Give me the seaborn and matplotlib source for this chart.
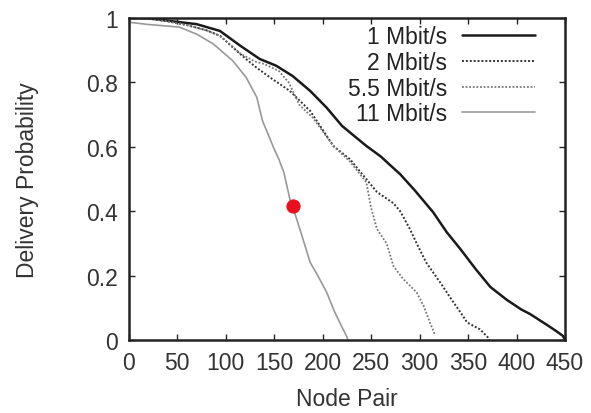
import numpy as np
import pandas as pd
import matplotlib
matplotlib.use( 'Agg' )
import matplotlib.pyplot as plt
import seaborn as sns

# Curves (node pair rank -> delivery probability)
x_1m = [0, 20, 45, 70, 94, 115, 135, 152, 169, 187, 204, 220, 245, 260, 269, 280, 295, 314, 328, 342, 358, 373, 390, 405, 414, 430, 440, 448, 450]
p_1m = [1.0, 1.0, 0.99, 0.981, 0.96, 0.914, 0.873, 0.852, 0.82, 0.774, 0.722, 0.665, 0.603, 0.57, 0.545, 0.515, 0.465, 0.397, 0.335, 0.283, 0.22, 0.165, 0.125, 0.095, 0.081, 0.05, 0.03, 0.013, 0.0]

x_2m = [0, 20, 40, 60, 80, 94, 115, 130, 145, 166, 187, 211, 228, 245, 256, 273, 280, 290, 297, 307, 321, 335, 342, 349, 362, 370, 372]
p_2m = [1.0, 0.998, 0.99, 0.978, 0.962, 0.945, 0.888, 0.85, 0.817, 0.774, 0.712, 0.603, 0.562, 0.5, 0.46, 0.425, 0.40, 0.345, 0.30, 0.24, 0.18, 0.117, 0.087, 0.055, 0.034, 0.01, 0.0]

x_55m = [0, 20, 40, 60, 80, 94, 115, 130, 140, 155, 165, 176, 190, 211, 228, 245, 250, 256, 266, 273, 283, 297, 304, 310, 314, 316]
p_55m = [1.0, 0.998, 0.99, 0.978, 0.962, 0.945, 0.89, 0.865, 0.857, 0.835, 0.80, 0.73, 0.69, 0.603, 0.555, 0.49, 0.41, 0.345, 0.30, 0.23, 0.19, 0.148, 0.107, 0.06, 0.03, 0.015]

x_11m = [0, 20, 52, 70, 87, 107, 121, 132, 138, 145, 149, 155, 160, 166, 169, 178, 187, 195, 204, 212, 220, 225, 226]
p_11m = [0.987, 0.98, 0.972, 0.95, 0.92, 0.868, 0.816, 0.754, 0.68, 0.63, 0.6, 0.56, 0.52, 0.44, 0.415, 0.33, 0.242, 0.2, 0.149, 0.09, 0.04, 0.01, 0.0]

labels = ['1 Mbit/s', '2 Mbit/s', '5.5 Mbit/s', '11 Mbit/s']
marker_x = [169]
marker_p = [0.415]

sns.set_style( 'ticks' )
plt.rcParams['font.family'] = ['Liberation Sans', 'DejaVu Sans']

fig = plt.figure( figsize = (5.91, 4.14), dpi = 100 )
ax = fig.add_axes( [0.218, 0.176, 0.738, 0.778] )

series = [(x_1m, p_1m), (x_2m, p_2m), (x_55m, p_55m), (x_11m, p_11m)]
styles = [
    dict( color = '#1a1a1a', linewidth = 1.8, linestyle = '-' ),
    dict( color = '#333333', linewidth = 1.4, linestyle = (0, (1, 1)) ),
    dict( color = '#777777', linewidth = 1.3, linestyle = (0, (1, 1)) ),
    dict( color = '#999999', linewidth = 1.2, linestyle = '-' ),
]
for (xs, ps), lab, st in zip( series, labels, styles ) :
    df = pd.DataFrame( { 'x' : xs, 'p' : ps } )
    sns.lineplot( data = df, x = 'x', y = 'p', ax = ax, sort = False, label = lab, **st )

sns.scatterplot( x = marker_x, y = marker_p, ax = ax, color = '#e8101c', s = 90, edgecolor = '#e8101c', zorder = 5 )

fs = 16.5
ax.set_xlim( 0, 450 )
ax.set_ylim( 0, 1 )
ax.set_xticks( np.arange( 0, 451, 50 ) )
ax.set_yticks( [0, 0.2, 0.4, 0.6, 0.8, 1] )
ax.set_yticklabels( ['0', '0.2', '0.4', '0.6', '0.8', '1'] )
ax.set_xlabel( 'Node Pair', fontsize = fs, color = '#333333', labelpad = 9 )
ax.set_ylabel( 'Delivery Probability', fontsize = fs, color = '#333333', labelpad = 34 )
ax.tick_params( direction = 'in', length = 4, width = 1, top = True, right = True, labelsize = fs, labelcolor = '#333333', pad = 8 )
for sp in ax.spines.values() :
    sp.set_visible( True )
    sp.set_linewidth( 1.8 )
    sp.set_color( '#222222' )

ax.legend( loc = 'upper right', bbox_to_anchor = (1 - 30 / 436, 1 - 7 / 322), frameon = False, markerfirst = False, fontsize = fs,
           handlelength = 3.2, labelspacing = 0.12, borderaxespad = 0, borderpad = 0, handletextpad = 0.65 )
for t in ax.get_legend().get_texts() :
    t.set_color( '#222222' )

fig.savefig( 'out.png', dpi = 100 )
